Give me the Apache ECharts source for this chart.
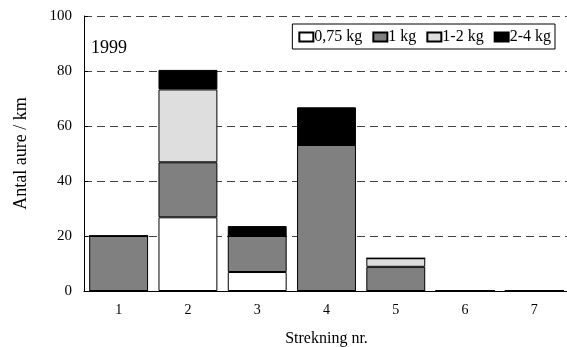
<!DOCTYPE html>
<html>
<head>
<meta charset="utf-8">
<script src="https://cdn.jsdelivr.net/npm/echarts@6/dist/echarts.min.js"></script>
<style>
  html, body { margin: 0; padding: 0; background: #fff; }
  #chart { width: 567px; height: 347px; }
</style>
</head>
<body>
<div id="chart"></div>
<script>
// Trout density per stretch, 1999, split by weight class
const categories = ['1', '2', '3', '4', '5', '6', '7'];
const w075 = [0, 26.8, 6.9, 0, 0, 0, 0];
const w1 = [20, 20, 13.1, 53.1, 8.8, 0, 0];
const w12 = [0, 26.5, 0, 0, 3.1, 0, 0];
const w24 = [0, 7.1, 3.6, 13.7, 0, 0, 0];
const yTicks = [0, 20, 40, 60, 80, 100];

const serif = 'Liberation Serif';

const classes = [
  { name: '0,75 kg', data: w075, color: '#ffffff' },
  { name: '1 kg', data: w1, color: '#808080' },
  { name: '1-2 kg', data: w12, color: '#dedede' },
  { name: '2-4 kg', data: w24, color: '#000000' }
];

const chart = echarts.init(document.getElementById('chart'));
chart.setOption({
  animation: false,
  title: {
    text: '1999',
    left: 86,
    top: 34,
    textStyle: { fontFamily: serif, fontSize: 18, fontWeight: 'normal', color: '#000' }
  },
  legend: {
    right: 12,
    top: 24,
    orient: 'horizontal',
    borderColor: '#000',
    borderWidth: 1,
    padding: [5, 4, 4, 6],
    itemGap: 10,
    itemWidth: 14,
    itemHeight: 9,
    icon: 'rect',
    textStyle: { fontFamily: serif, fontSize: 16, color: '#000', padding: [0, 0, 0, -4] },
    data: classes.map(c => c.name)
  },
  grid: { left: 84, width: 485, top: 16, bottom: 56, outerBoundsMode: 'none' },
  xAxis: {
    type: 'category',
    data: categories,
    name: 'Strekning nr.',
    nameLocation: 'middle',
    nameGap: 40,
    nameTextStyle: { fontFamily: serif, fontSize: 16, color: '#000' },
    axisLine: { lineStyle: { color: '#000', width: 1 } },
    axisTick: { show: false },
    axisLabel: { fontFamily: serif, fontSize: 14, color: '#000', margin: 12 }
  },
  yAxis: {
    type: 'value',
    min: yTicks[0],
    max: yTicks[yTicks.length - 1],
    interval: 20,
    name: 'Antal aure / km',
    nameLocation: 'middle',
    nameGap: 54,
    nameTextStyle: { fontFamily: serif, fontSize: 18, color: '#000' },
    axisLine: { show: true, lineStyle: { color: '#000', width: 1 } },
    axisTick: { show: true, inside: true, length: 4, lineStyle: { color: '#000' } },
    axisLabel: { fontFamily: serif, fontSize: 15, color: '#000', margin: 12 },
    splitLine: { show: true, lineStyle: { color: '#444', type: [8, 5], width: 1 } }
  },
  series: classes.map(c => ({
    name: c.name,
    type: 'bar',
    stack: 'total',
    data: c.data,
    barCategoryGap: '15%',
    itemStyle: { color: c.color, borderColor: '#000', borderWidth: 1 }
  }))
});
</script>
</body>
</html>
